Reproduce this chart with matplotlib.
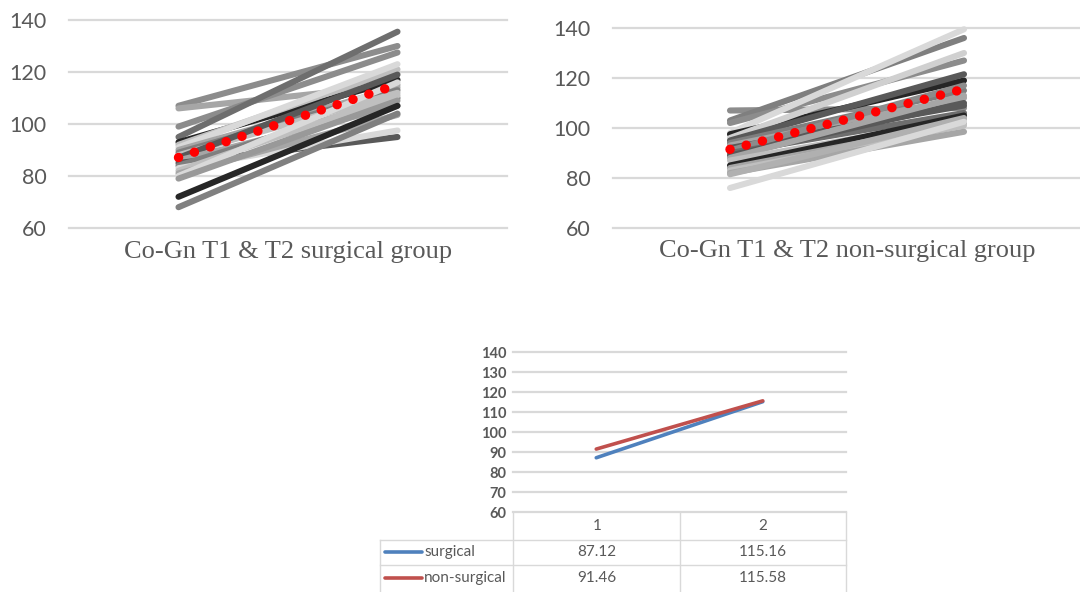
import matplotlib
matplotlib.use("Agg")
import matplotlib.pyplot as plt

# -- Data --------------------------------------------------------------------
# individual Co-Gn measurements, T1 -> T2
surg_t1 = [107, 106, 99, 95, 93, 92, 91, 90, 89, 88, 87, 86, 85, 84, 83, 82, 81, 80, 79, 72, 68]
surg_t2 = [130, 115, 127.5, 135.5, 117, 121, 123, 114, 113, 112, 119, 107, 95, 110, 97.5, 111, 103.5, 116, 109, 107, 104]
surg_col = ["#8c8c8c", "#a6a6a6", "#8c8c8c", "#6e6e6e", "#262626", "#bfbfbf", "#d9d9d9",
            "#a6a6a6", "#7f7f7f", "#bfbfbf", "#595959", "#a6a6a6", "#595959", "#7f7f7f",
            "#d9d9d9", "#bfbfbf", "#a6a6a6", "#d9d9d9", "#999999", "#262626", "#808080"]

non_t1 = [107, 103, 102, 98, 97.5, 96, 95, 94, 93, 92, 91, 90, 89, 88, 87, 85, 84, 83, 82, 81.5, 76]
non_t2 = [108, 136, 127, 139.5, 119, 130, 121.5, 115, 112, 109, 117, 106, 110, 113, 103.5, 105, 102, 101, 98.5, 104, 102.5]
non_col = ["#8c8c8c", "#7f7f7f", "#8c8c8c", "#d9d9d9", "#262626", "#d0d0d0", "#595959",
           "#7f7f7f", "#a6a6a6", "#595959", "#8c8c8c", "#6e6e6e", "#595959", "#a6a6a6",
           "#bfbfbf", "#262626", "#a6a6a6", "#bfbfbf", "#a6a6a6", "#b0b0b0", "#d9d9d9"]

# group means
time_points = [1, 2]
surg_mean = [87.12, 115.16]
non_mean = [91.46, 115.58]

GRID = "#d9d9d9"
TXT = "#595959"
W, H = 1080, 592


def px_axes(fig, x0, y0, x1, y1):
    # axes from pixel box (top-left origin)
    return fig.add_axes([x0 / W, 1 - y1 / H, (x1 - x0) / W, (y1 - y0) / H])


def style_axes(ax, ticks, fs, pad, weight="normal"):
    ax.set_xlim(0.5, 2.5)
    ax.set_ylim(60, 140)
    ax.set_yticks(ticks)
    ax.set_xticks([])
    for s in ax.spines.values():
        s.set_visible(False)
    ax.yaxis.grid(True, color=GRID, lw=1.6)
    ax.set_axisbelow(True)
    for gl in ax.get_ygridlines():
        gl.set_clip_on(False)
    ax.tick_params(axis="y", length=0, pad=pad, labelsize=fs, labelcolor=TXT)
    for lab in ax.get_yticklabels():
        lab.set_family("Lato")
        lab.set_fontweight(weight)


def spaghetti(ax, t1, t2, cols, mean, label):
    for a, b, c in zip(t1, t2, cols):
        ax.plot(time_points, [a, b], color=c, lw=4.4, solid_capstyle="round", clip_on=False)
    ax.plot(time_points, mean, color="#ff0000", lw=6.8,
            linestyle=(0, (0.01, 1.76)), dash_capstyle="round", clip_on=False)
    ax.text(0.5, -0.115, label, transform=ax.transAxes, ha="center", va="center",
            fontsize=19, color=TXT, family="Liberation Serif")


fig = plt.figure(figsize=(W / 100, H / 100), dpi=100)
fig.patch.set_facecolor("white")

ax1 = px_axes(fig, 69, 20, 507, 228)
style_axes(ax1, [60, 80, 100, 120, 140], 15.5, 16)
spaghetti(ax1, surg_t1, surg_t2, surg_col, surg_mean, "Co-Gn T1 & T2 surgical group")

ax2 = px_axes(fig, 613, 28, 1081, 228)
style_axes(ax2, [60, 80, 100, 120, 140], 15.5, 16)
spaghetti(ax2, non_t1, non_t2, non_col, non_mean, "Co-Gn T1 & T2 non-surgical group")

# -- bottom chart with data table ---------------------------------------------
ax3 = px_axes(fig, 513, 352, 846, 512)
style_axes(ax3, list(range(60, 141, 10)), 10.5, 5, weight="bold")
ax3.plot(time_points, surg_mean, color="#4F81BD", lw=2.6, solid_capstyle="round")
ax3.plot(time_points, non_mean, color="#C0504D", lw=2.6, solid_capstyle="round")

ov = fig.add_axes([0, 0, 1, 1])
ov.set_xlim(0, W)
ov.set_ylim(H, 0)
ov.axis("off")
ov.patch.set_alpha(0)

for y in (540, 565):
    ov.plot([380, 846], [y, y], color=GRID, lw=1)
for x in (513, 680, 846):
    ov.plot([x, x], [512, 592], color=GRID, lw=1)
ov.plot([380, 380], [540, 592], color=GRID, lw=1)

col_x = [597, 763]
for cx, t in zip(col_x, time_points):
    ov.text(cx, 526, str(t), ha="center", va="center", fontsize=11, color=TXT, family="Lato")

rows = [("surgical", surg_mean, "#4F81BD", 552), ("non-surgical", non_mean, "#C0504D", 578)]
for name, vals, c, y in rows:
    ov.plot([385, 422], [y, y], color=c, lw=2.6, solid_capstyle="round")
    ov.text(424, y, name, ha="left", va="center", fontsize=11, color=TXT, family="Lato")
    for cx, v in zip(col_x, vals):
        ov.text(cx, y, f"{v:.2f}", ha="center", va="center", fontsize=11, color=TXT, family="Lato")

fig.savefig("out.png", dpi=100, facecolor="white")
